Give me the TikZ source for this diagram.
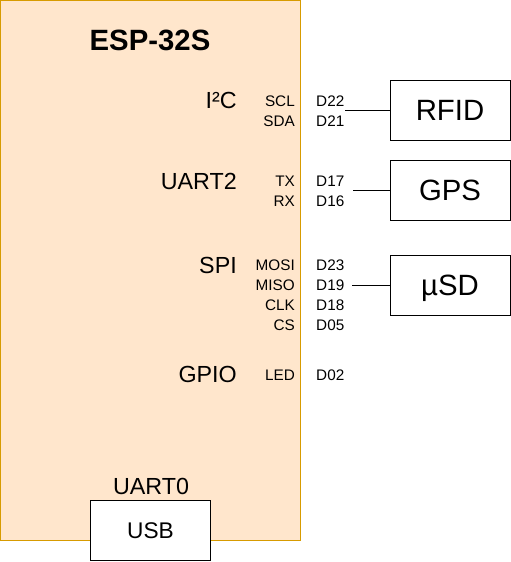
\documentclass[tikz,border=0pt]{standalone}
\usepackage{fontspec}
\setmainfont{Liberation Sans}
\definecolor{espfill}{HTML}{FFE6CC}
\definecolor{espline}{HTML}{D79B00}
\begin{document}
\begin{tikzpicture}[x=1pt,y=-1pt,
  small/.style={font=\fontsize{15.3}{18}\selectfont, inner sep=0pt},
  midlbl/.style={font=\fontsize{23.3}{27}\selectfont, inner sep=0pt},
  dev/.style={draw=black, line width=1pt, fill=white, minimum width=120pt, minimum height=60pt, inner sep=0pt, font=\fontsize{29.33}{34}\selectfont, text height=21pt, text depth=0pt},
  usbbox/.style={draw=black, line width=1pt, fill=white, minimum width=120pt, minimum height=60pt, inner sep=0pt, font=\fontsize{22.67}{26}\selectfont, text height=16.2pt, text depth=0pt},
  wire/.style={draw=black, line width=1pt}]
\useasboundingbox (0,0) rectangle (511,562);
\node[draw=espline, fill=espfill, line width=1pt, minimum width=300pt, minimum height=540pt, inner sep=0pt] (esp) at (150,270) {};
\node[font=\bfseries\fontsize{29.33}{34}\selectfont, anchor=base, inner sep=0pt] (title) at (150,50.5) {ESP-32S};
% interface names
\node[midlbl, anchor=base east] (i2c) at (237,108.3) {I²C};
\node[midlbl, anchor=base east] (uart2) at (237,189.3) {UART2};
\node[midlbl, anchor=base east] (spi) at (237,273.3) {SPI};
\node[midlbl, anchor=base east] (gpio) at (237,382.7) {GPIO};
% signal names
\node[small, anchor=base east] (scl) at (295,106) {SCL};
\node[small, anchor=base east] (sda) at (295,126) {SDA};
\node[small, anchor=base east] (tx) at (295,186) {TX};
\node[small, anchor=base east] (rx) at (295,206) {RX};
\node[small, anchor=base east] (mosi) at (295,270.7) {MOSI};
\node[small, anchor=base east] (miso) at (295,290.7) {MISO};
\node[small, anchor=base east] (clk) at (295,310.7) {CLK};
\node[small, anchor=base east] (cs) at (295,330.7) {CS};
\node[small, anchor=base east] (led) at (295,380.7) {LED};
% pin names
\node[small, anchor=base west] (d22) at (316,106) {D22};
\node[small, anchor=base west] (d21) at (316,126) {D21};
\node[small, anchor=base west] (d17) at (316,186) {D17};
\node[small, anchor=base west] (d16) at (316,206) {D16};
\node[small, anchor=base west] (d23) at (316,270.7) {D23};
\node[small, anchor=base west] (d19) at (316,290.7) {D19};
\node[small, anchor=base west] (d18) at (316,310.7) {D18};
\node[small, anchor=base west] (d05) at (316,330.7) {D05};
\node[small, anchor=base west] (d02) at (316,380.7) {D02};
% devices
\node[dev] (rfid) at (450,110) {RFID};
\node[dev] (gps) at (450,190) {GPS};
\node[dev] (sd) at (450,285) {µSD};
% wires
\coordinate (rfidw) at (345,110.5);
\coordinate (gpsw) at (353,190.5);
\coordinate (sdw) at (352,285.5);
\draw[wire] (rfidw) -- (rfidw -| rfid.west);
\draw[wire] (gpsw) -- (gpsw -| gps.west);
\draw[wire] (sdw) -- (sdw -| sd.west);
% USB
\node[midlbl, anchor=base] (uart0) at (151,494.3) {UART0};
\node[usbbox] (usb) at (150.5,530) {USB};
\end{tikzpicture}
\end{document}
